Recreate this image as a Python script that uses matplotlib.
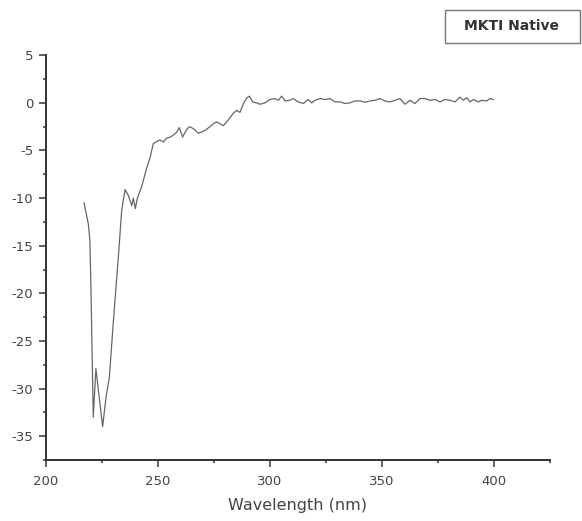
import matplotlib
matplotlib.use('Agg')
import matplotlib.pyplot as plt
from matplotlib.patches import Rectangle
from matplotlib.ticker import MultipleLocator

# CD spectrum (wavelength in nm, ellipticity)
wavelength = [217.0, 218.9, 219.6, 220.1, 221.1, 222.3, 223.8, 225.3, 226.8, 228.3,
              230.0, 232.3, 233.8, 235.3, 236.7, 238.3, 239.0, 239.9, 240.8, 242.7,
              244.9, 246.4, 247.9, 249.1, 250.9, 252.4, 253.9, 255.4, 256.8, 258.3,
              259.5, 261.0, 262.5, 264.0, 265.8, 268.0, 271.0, 273.2, 274.7, 276.2,
              277.7, 279.2, 281.4, 283.6, 285.1, 286.6, 288.1, 289.6, 290.8, 292.3,
              294.1, 295.5, 297.8, 300.0, 302.2, 303.7, 305.2, 306.7, 308.9, 310.4,
              312.6, 314.9, 317.1, 318.6, 320.1, 322.3, 324.6, 326.8, 329.0, 331.3,
              333.5, 335.7, 337.9, 340.2, 342.4, 344.6, 346.9, 349.1, 351.3, 353.6,
              355.8, 358.0, 360.3, 362.5, 364.7, 367.0, 369.2, 371.4, 373.7, 375.9,
              378.1, 380.4, 382.6, 384.8, 386.3, 387.8, 389.3, 390.8, 393.0, 394.5,
              396.7, 398.2, 399.7]
signal = [-10.5, -12.7, -14.4, -19.7, -33.0, -27.9, -31.0, -34.0, -30.9, -28.8,
          -23.2, -16.2, -11.3, -9.1, -9.7, -10.8, -10.0, -11.1, -10.0, -8.8,
          -6.9, -5.8, -4.3, -4.1, -3.9, -4.1, -3.7, -3.6, -3.4, -3.1,
          -2.6, -3.6, -2.9, -2.5, -2.7, -3.2, -2.9, -2.5, -2.2, -2.0,
          -2.2, -2.4, -1.8, -1.1, -0.8, -1.0, -0.1, 0.5, 0.7, 0.1,
          0.0, -0.15, 0.0, 0.35, 0.45, 0.27, 0.7, 0.2, 0.27, 0.45,
          0.1, -0.07, 0.35, 0.0, 0.27, 0.45, 0.35, 0.45, 0.1, 0.1,
          -0.07, 0.0, 0.2, 0.2, 0.06, 0.2, 0.27, 0.45, 0.2, 0.1,
          0.27, 0.45, -0.15, 0.27, -0.07, 0.45, 0.45, 0.27, 0.35, 0.1,
          0.35, 0.27, 0.1, 0.6, 0.27, 0.55, 0.1, 0.35, 0.1, 0.27,
          0.2, 0.45, 0.35]

x_ticks = [200, 250, 300, 350, 400]
y_ticks = [5, 0, -5, -10, -15, -20, -25, -30, -35]
legend_text = 'MKTI Native'

axis_col = '#333333'
text_col = '#444444'

plt.rcParams['axes.unicode_minus'] = False

fig = plt.figure(figsize=(5.82, 5.21), dpi=100)
ax = fig.add_axes([0.079, 0.117, 0.866, 0.777])

ax.plot(wavelength, signal, color='#666666', lw=0.9)

ax.set_xlim(200, 425)
ax.set_ylim(-37.5, 5)
ax.set_xticks(x_ticks)
ax.set_yticks(y_ticks)
ax.xaxis.set_minor_locator(MultipleLocator(25))
ax.yaxis.set_minor_locator(MultipleLocator(2.5))

for side in ['top', 'right']:
    ax.spines[side].set_visible(False)
for side in ['left', 'bottom']:
    ax.spines[side].set_linewidth(1.4)
    ax.spines[side].set_color(axis_col)

ax.tick_params(which='major', direction='out', length=5, width=1.1,
               color=axis_col, labelcolor=text_col, labelsize=9.5)
ax.tick_params(which='minor', direction='out', length=2.5, width=1.1, color=axis_col)
ax.tick_params(axis='x', pad=6)
ax.tick_params(axis='y', pad=4)

ax.set_xlabel('Wavelength (nm)', fontsize=11.5, color=text_col, labelpad=7)

# legend-like label box in the upper right corner
fig.patches.append(Rectangle((445 / 582, 1 - 43 / 521), 135 / 582, 33 / 521,
                             transform=fig.transFigure, fc='white', ec='#777777', lw=1))
fig.text(512 / 582, 1 - 26.5 / 521, legend_text, ha='center', va='center',
         fontsize=10, color='#333333', fontweight='bold')

fig.savefig('out.png', dpi=100)
